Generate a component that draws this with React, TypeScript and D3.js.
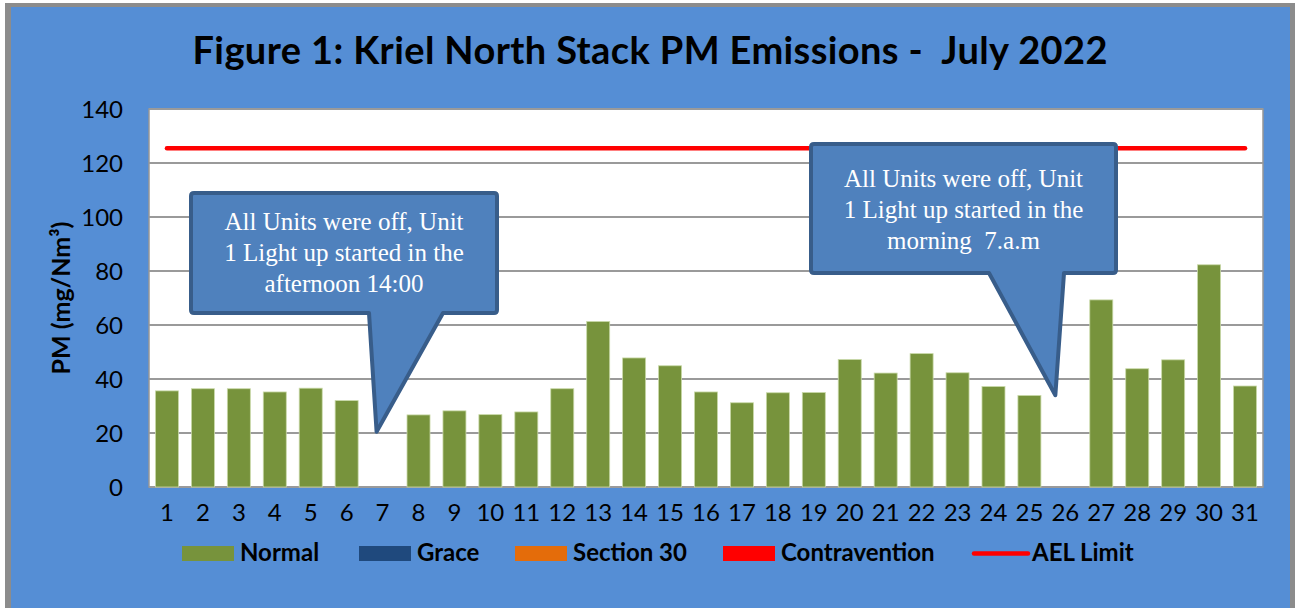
import React from "react";
import * as d3 from "d3";

// daily PM readings, July 2022 (null = units off, no reading)
const days = ["1","2","3","4","5","6","7","8","9","10","11","12","13","14","15","16","17","18","19","20","21","22","23","24","25","26","27","28","29","30","31"];
const pmValues = [35.6, 36.4, 36.4, 35.2, 36.6, 32.0, null, 26.7, 28.2, 26.8, 27.8, 36.4, 61.3, 47.8, 44.9, 35.2, 31.2, 34.9, 35.0, 47.2, 42.2, 49.4, 42.3, 37.2, 33.9, null, 69.3, 43.8, 47.1, 82.3, 37.4];
const aelLimit = 125.5;
const yTicks = [0, 20, 40, 60, 80, 100, 120, 140];

const legendItems = [
  { label: "Normal", color: "#77933C", kind: "box" },
  { label: "Grace", color: "#1F497D", kind: "box" },
  { label: "Section 30", color: "#E46C0A", kind: "box" },
  { label: "Contravention", color: "#FF0000", kind: "box" },
  { label: "AEL Limit", color: "#FF0000", kind: "line" },
];

const callouts = [
  { day: "7", value: 20.5, dx: -6, box: [191, 193, 497, 313], base: [369, 443], textTop: 37,
    lines: ["All Units were off, Unit", "1 Light up started in the", "afternoon 14:00"] },
  { day: "26", value: 34, dx: -10, box: [811, 144, 1116, 273], base: [989, 1064], textTop: 43,
    lines: ["All Units were off, Unit", "1 Light up started in the", "morning  7.a.m"] },
];

const W = 1300, H = 608;
const plot = { left: 149, top: 109, right: 1263, bottom: 487 };
const sans = "Lato, 'Open Sans', sans-serif";
const serif = "'Liberation Serif', 'DejaVu Serif', serif";

function calloutPath(c, tipX, tipY) {
  const [x0, y0, x1, y1] = c.box;
  const r = 3;
  return `M${x0 + r},${y0} L${x1 - r},${y0} Q${x1},${y0} ${x1},${y0 + r} L${x1},${y1 - r} Q${x1},${y1} ${x1 - r},${y1}` +
    ` L${c.base[1]},${y1} L${tipX},${tipY} L${c.base[0]},${y1}` +
    ` L${x0 + r},${y1} Q${x0},${y1} ${x0},${y1 - r} L${x0},${y0 + r} Q${x0},${y0} ${x0 + r},${y0} Z`;
}

export default function App() {
  const x = d3.scaleBand().domain(days).range([plot.left, plot.right]).paddingInner(0.36).paddingOuter(0.18);
  const y = d3.scaleLinear().domain([0, 140]).range([plot.bottom, plot.top]);
  const band = d3.scaleBand().domain(days).range([plot.left, plot.right]);
  const cx = (d) => band(d) + band.bandwidth() / 2;

  const legendX = [182, 359, 515, 723, 974];

  return (
    <svg width={W} height={H} style={{ display: "block", position: "absolute", left: 0, top: 0 }}>
      <rect x={0} y={0} width={W} height={H} fill="#ffffff" />
      <rect x={5} y={3} width={1290} height={H} fill="#8c8c8c" />
      <rect x={11} y={7} width={1279} height={H} fill="#558ED5" />

      <text x={650} y={64} textAnchor="middle" fontFamily={sans} fontWeight="bold" fontSize={38} fill="#000"
        textLength={915} lengthAdjust="spacing" style={{ whiteSpace: "pre" }}>
        Figure 1: Kriel North Stack PM Emissions -  July 2022
      </text>

      {/* plot area */}
      <rect x={plot.left} y={plot.top} width={plot.right - plot.left} height={plot.bottom - plot.top} fill="#ffffff" stroke="#969696" strokeWidth={1.5} />
      {yTicks.map((t) => (
        <g key={t}>
          <line x1={plot.left} x2={plot.right} y1={y(t)} y2={y(t)} stroke="#9a9a9a" strokeWidth={2} />
          <text x={123} y={y(t) + 8.5} textAnchor="end" fontFamily={sans} fontSize={24} fill="#000">{t}</text>
        </g>
      ))}

      {days.map((d, i) =>
        pmValues[i] == null ? null : (
          <rect key={d} x={x(d)} y={y(pmValues[i])} width={x.bandwidth()} height={y(0) - y(pmValues[i])}
            fill="#77933C" stroke="#c9d9a8" strokeWidth={0.8} />
        )
      )}

      <line x1={cx(days[0])} x2={cx(days[days.length - 1])} y1={y(aelLimit)} y2={y(aelLimit)}
        stroke="#FF0000" strokeWidth={4.5} strokeLinecap="round" />

      {days.map((d) => (
        <text key={d} x={cx(d)} y={521} textAnchor="middle" fontFamily={sans} fontSize={24} fill="#000">{d}</text>
      ))}

      <text transform={`translate(70,${(plot.top + plot.bottom) / 2}) rotate(-90)`} textAnchor="middle"
        fontFamily={sans} fontWeight="bold" fontSize={25} fill="#000">PM (mg/Nm³)</text>

      {callouts.map((c, i) => {
        const tipX = cx(c.day) + c.dx;
        const tipY = y(c.value);
        const mid = (c.box[0] + c.box[2]) / 2;
        return (
          <g key={i}>
            <path d={calloutPath(c, tipX, tipY)} fill="#4F81BD" stroke="#385D8A" strokeWidth={4} strokeLinejoin="round" />
            {c.lines.map((l, j) => (
              <text key={j} x={mid} y={c.box[1] + c.textTop + j * 31} textAnchor="middle" fontFamily={serif}
                fontSize={25} fill="#ffffff" style={{ whiteSpace: "pre" }}>{l}</text>
            ))}
          </g>
        );
      })}

      {legendItems.map((item, i) => (
        <g key={item.label}>
          {item.kind === "box" ? (
            <rect x={legendX[i]} y={546} width={52} height={15} fill={item.color} />
          ) : (
            <line x1={legendX[i]} x2={legendX[i] + 54} y1={553.5} y2={553.5} stroke={item.color} strokeWidth={4.5} strokeLinecap="round" />
          )}
          <text x={legendX[i] + 58} y={561} fontFamily={sans} fontWeight="bold" fontSize={24} fill="#000">{item.label}</text>
        </g>
      ))}
    </svg>
  );
}
